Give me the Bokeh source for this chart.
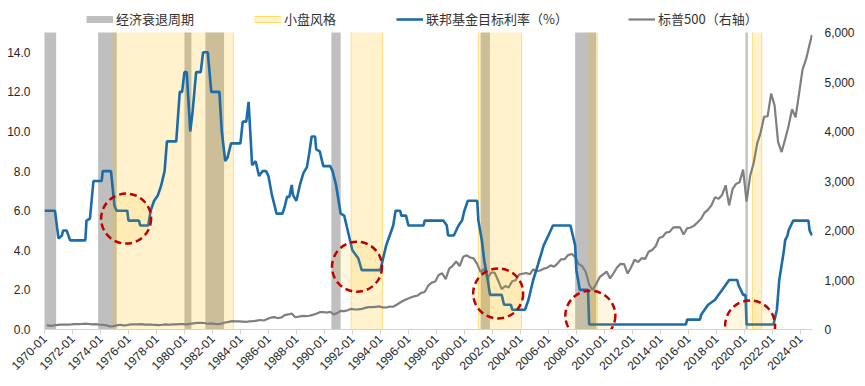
import pandas as pd
from math import pi
from bokeh.plotting import figure
from bokeh.models import (Range1d, LinearAxis, FixedTicker, NumeralTickFormatter,
                          DatetimeTickFormatter, Legend, LegendItem)
from bokeh.embed import file_html
from bokeh.resources import INLINE

# ---------------- data ----------------
# NBER recession periods (grey bands)
rec_start = ["1969-12", "1973-11", "1980-01", "1981-07", "1990-07", "2001-03", "2007-12", "2020-02"]
rec_end   = ["1970-11", "1975-03", "1980-07", "1982-11", "1991-03", "2001-11", "2009-06", "2020-04"]

# small-cap style periods (yellow bands)
small_start = ["1974-12", "1991-12", "2001-01", "2008-12", "2020-08"]
small_end   = ["1983-07", "1994-03", "2004-02", "2009-07", "2021-04"]

# Fed funds target rate (%), vertices of the series
rate_dates = ["1970-01", "1970-10", "1971-01", "1971-04", "1971-05", "1971-08", "1971-11", "1972-12",
              "1973-01", "1973-04", "1973-07", "1974-02", "1974-03", "1974-10", "1975-01", "1975-03",
              "1975-12", "1976-01", "1976-10", "1976-11", "1977-06", "1977-08", "1977-11", "1978-02",
              "1978-05", "1978-08", "1978-10", "1979-06", "1979-09", "1979-11", "1980-01", "1980-03",
              "1980-06", "1980-08", "1980-11", "1981-03", "1981-05", "1981-09", "1981-12", "1982-07",
              "1982-09", "1982-12", "1983-02", "1983-05", "1984-01", "1984-03", "1984-06", "1984-08",
              "1984-11", "1985-02", "1985-05", "1985-08", "1985-11", "1986-01", "1986-04", "1986-08",
              "1987-01", "1987-03", "1987-05", "1987-07", "1987-09", "1987-10", "1988-01", "1988-04",
              "1988-07", "1988-10", "1988-12", "1989-02", "1989-05", "1989-06", "1989-09", "1989-12",
              "1990-06", "1990-08", "1990-11", "1991-03", "1991-06", "1991-09", "1992-01", "1992-06",
              "1992-09", "1994-01", "1994-03", "1994-06", "1994-09", "1994-12", "1995-02", "1995-06",
              "1995-07", "1995-11", "1996-01", "1997-02", "1997-03", "1998-07", "1998-10", "1998-11",
              "1999-04", "1999-06", "1999-08", "1999-11", "2000-01", "2000-04", "2000-12", "2001-01",
              "2001-04", "2001-06", "2001-09", "2001-11", "2002-09", "2002-11", "2003-05", "2003-06",
              "2004-05", "2004-08", "2004-12", "2005-04", "2005-09", "2006-01", "2006-05", "2007-08",
              "2007-10", "2007-12", "2008-01", "2008-04", "2008-11", "2008-12", "2015-11", "2015-12",
              "2016-11", "2016-12", "2017-03", "2017-06", "2017-12", "2018-03", "2018-06", "2018-09",
              "2018-12", "2019-07", "2019-08", "2019-10", "2019-12", "2020-02", "2020-03", "2022-02",
              "2022-03", "2022-05", "2022-06", "2022-07", "2022-09", "2022-11", "2022-12", "2023-02",
              "2023-03", "2023-05", "2023-07", "2024-08", "2024-09", "2024-11"]
rate_values = [6.0, 6.0, 4.6, 4.75, 5.0, 5.0, 4.5, 4.5,
               5.5, 5.6, 7.5, 7.5, 8.0, 8.0, 6.25, 6.0,
               6.0, 5.5, 5.5, 5.25, 5.25, 6.0, 6.5, 6.75,
               7.25, 8.0, 9.5, 9.5, 12.0, 12.0, 13.0, 13.0,
               10.0, 11.0, 13.0, 13.0, 14.0, 14.0, 12.0, 12.0,
               10.0, 8.5, 8.7, 9.4, 9.4, 10.5, 10.5, 11.5,
               8.3, 8.5, 7.75, 8.0, 8.0, 7.75, 6.8, 5.85,
               5.85, 6.2, 6.7, 6.7, 7.3, 6.8, 6.5, 7.3,
               7.9, 8.2, 8.9, 9.75, 9.75, 9.1, 9.0, 8.25,
               8.25, 8.0, 7.3, 5.85, 5.75, 5.0, 4.0, 3.6,
               3.0, 3.0, 3.5, 4.25, 4.75, 5.25, 6.0, 6.0,
               5.75, 5.75, 5.25, 5.25, 5.5, 5.5, 5.25, 4.75,
               4.75, 5.0, 5.25, 5.5, 6.0, 6.5, 6.5, 5.5,
               4.5, 3.5, 2.5, 1.75, 1.75, 1.25, 1.25, 1.0,
               1.0, 1.5, 2.5, 3.25, 4.25, 4.75, 5.25, 5.25,
               4.75, 4.25, 3.0, 2.0, 2.0, 0.25, 0.25, 0.5,
               0.5, 0.75, 1.0, 1.25, 1.5, 1.75, 2.0, 2.25,
               2.5, 2.5, 2.25, 2.0, 1.75, 1.75, 0.25, 0.25,
               0.5, 1.0, 1.75, 2.5, 3.25, 4.0, 4.5, 4.75,
               5.0, 5.25, 5.5, 5.5, 5.0, 4.75]

# S&P 500 quarter-end closes from 1970Q1 (right axis), plus Nov-2024
sp500 = [89.6, 72.7, 84.2, 92.2, 100.3, 99.0, 98.3, 102.1, 107.2, 107.1, 110.6, 118.1,
         111.5, 104.3, 108.4, 97.6, 93.9, 86.0, 63.5, 68.6, 83.4, 95.2, 83.9, 90.2,
         102.8, 104.3, 105.2, 107.5, 98.4, 100.5, 96.5, 95.1, 89.2, 95.5, 102.5, 96.1,
         101.6, 102.9, 109.3, 107.9, 102.1, 114.2, 125.5, 135.8, 136.0, 131.2, 116.2, 122.6,
         112.0, 109.6, 120.4, 140.6, 153.0, 168.1, 166.1, 164.9, 159.2, 153.2, 166.1, 167.2,
         180.7, 191.9, 182.1, 211.3, 238.9, 250.8, 231.3, 242.2, 291.7, 304.0, 321.8, 247.1,
         258.9, 273.5, 271.9, 277.7, 294.9, 318.0, 349.2, 353.4, 339.9, 358.0, 306.1, 330.2,
         375.2, 371.2, 387.9, 417.1, 403.7, 408.1, 417.8, 435.7, 451.7, 450.5, 458.9, 466.5,
         445.8, 444.3, 462.7, 459.3, 500.7, 544.8, 584.4, 615.9, 645.5, 670.6, 687.3, 740.7,
         757.1, 885.1, 947.3, 970.4, 1101.8, 1133.8, 1017.0, 1229.2, 1286.4, 1372.7, 1282.7, 1469.3,
         1498.6, 1454.6, 1436.5, 1320.3, 1160.3, 1224.4, 1040.9, 1148.1, 1147.4, 989.8, 815.3, 879.8,
         848.2, 974.5, 996.0, 1111.9, 1126.2, 1140.8, 1114.6, 1211.9, 1180.6, 1191.3, 1228.8, 1248.3,
         1294.8, 1270.2, 1335.9, 1418.3, 1420.9, 1503.4, 1526.8, 1468.4, 1322.7, 1280.0, 1166.4, 903.3,
         797.9, 919.3, 1057.1, 1115.1, 1169.4, 1030.7, 1141.2, 1257.6, 1325.8, 1320.6, 1131.4, 1257.6,
         1408.5, 1362.2, 1440.7, 1426.2, 1569.2, 1606.3, 1681.6, 1848.4, 1872.3, 1960.2, 1972.3, 2058.9,
         2067.9, 2063.1, 1920.0, 2043.9, 2059.7, 2098.9, 2168.3, 2238.8, 2362.7, 2423.4, 2519.4, 2673.6,
         2640.9, 2718.4, 2914.0, 2506.9, 2834.4, 2941.8, 2976.7, 3230.8, 2584.6, 3100.3, 3363.0, 3756.1,
         3972.9, 4297.5, 4307.5, 4766.2, 4530.4, 3785.4, 3585.6, 3839.5, 4109.3, 4450.4, 4288.1, 4769.8,
         5254.4, 5460.5, 5762.5, 5950.0]

# highlighted zones (dashed circles): centre date and left-axis level
circle_dates = ["1975-11", "1992-05", "2002-06", "2009-01", "2020-06"]
circle_levels = [5.6, 3.17, 1.82, 0.7, 0.2]

tick_years = list(range(1970, 2025, 2))
left_ticks = [0, 2, 4, 6, 8, 10, 12, 14]
right_ticks = [0, 1000, 2000, 3000, 4000, 5000, 6000]
LEFT_MAX, RIGHT_MAX = 15, 6000

# ---------------- helpers ----------------
def dt(lst):
    return pd.to_datetime(lst, format="%Y-%m")

sp_dates = list(pd.date_range("1970-03-01", periods=len(sp500) - 1, freq="3MS")) + [pd.Timestamp("2024-11-01")]

FONT = "Liberation Sans"
TXT = "#262626"

x0 = pd.Timestamp("1970-01-01").value / 1e6
x1 = pd.Timestamp("2024-11-15").value / 1e6

# frame: 768 x 321 px; values 0..15 occupy the lowest 297 px, legend strip above
FRAME_H, PLOT_H = 321, 297
y_top = LEFT_MAX * FRAME_H / PLOT_H

p = figure(frame_width=768, frame_height=FRAME_H, x_axis_type="datetime", output_backend="svg",
           toolbar_location=None,
           x_range=Range1d(x0, x1),
           y_range=Range1d(0, y_top),
           min_border_left=44, min_border_right=45, min_border_top=8, min_border_bottom=49)
p.extra_y_ranges = {"sp": Range1d(0, RIGHT_MAX * FRAME_H / PLOT_H)}
p.xgrid.visible = False
p.ygrid.visible = False
p.outline_line_color = None

# bands
p.quad(left=dt(rec_start), right=dt(rec_end), bottom=0, top=LEFT_MAX,
       fill_color="#BFBFBF", line_color=None)
p.quad(left=dt(small_start), right=dt(small_end), bottom=0, top=LEFT_MAX,
       fill_color="#FFC000", fill_alpha=0.2, line_color=None)
for edge in (small_start, small_end):
    p.segment(x0=dt(edge), y0=0, x1=dt(edge), y1=LEFT_MAX,
              line_color="#FFC000", line_alpha=0.45, line_width=1)

# series
sp_r = p.line(sp_dates, sp500, y_range_name="sp", line_color="#7F7F7F", line_width=2.2)
rate_r = p.line(dt(rate_dates), rate_values, line_color="#1B6CA8", line_width=2.6)

# dashed circles
p.scatter(dt(circle_dates), circle_levels, marker="circle", size=50,
          fill_color="#FFC000", fill_alpha=0.12,
          line_color="#C00000", line_width=2.5, line_dash="7 4")

# legend swatches (off-range points, only used by the legend)
g_rec = p.line([x0, x0], [-5, -5], line_color="#BFBFBF", line_width=7)
g_sm1 = p.line([x0, x0], [-5, -5], line_color="#FFD966", line_width=7)
g_sm2 = p.line([x0, x0], [-5, -5], line_color="#FFF2CC", line_width=5)

# axes
xa = p.xaxis[0]
xa.ticker = FixedTicker(ticks=[pd.Timestamp(f"{y}-01-01").value / 1e6 for y in tick_years])
xa.formatter = DatetimeTickFormatter(years="%Y-%m", months="%Y-%m", days="%Y-%m",
                                     hours="%Y-%m", minutes="%Y-%m", seconds="%Y-%m")
xa.major_label_orientation = pi / 4
xa.axis_line_color = "#D9D4C3"
xa.major_tick_line_color = "#D9D4C3"
xa.major_tick_out = 5
xa.major_tick_in = 0
xa.minor_tick_line_color = None
xa.major_label_standoff = 2
xa.major_label_text_font = FONT
xa.major_label_text_font_size = "12px"
xa.major_label_text_color = TXT

ya = p.yaxis[0]
ya.ticker = FixedTicker(ticks=left_ticks)
ya.formatter = NumeralTickFormatter(format="0.0")
ya.axis_line_color = None
ya.major_tick_line_color = None
ya.minor_tick_line_color = None
ya.major_tick_out = 0
ya.major_tick_in = 0
ya.minor_tick_out = 0
ya.major_label_standoff = 14
ya.major_label_text_font = FONT
ya.major_label_text_font_size = "12px"
ya.major_label_text_color = TXT

ra = LinearAxis(y_range_name="sp", ticker=FixedTicker(ticks=right_ticks),
                formatter=NumeralTickFormatter(format="0,0"))
ra.axis_line_color = None
ra.major_tick_line_color = None
ra.minor_tick_line_color = None
ra.major_tick_out = 0
ra.major_tick_in = 0
ra.minor_tick_out = 0
ra.major_label_standoff = 12
ra.major_label_text_font = FONT
ra.major_label_text_font_size = "12px"
ra.major_label_text_color = TXT
p.add_layout(ra, "right")

legend = Legend(items=[
    LegendItem(label="经济衰退周期", renderers=[g_rec]),
    LegendItem(label="小盘风格", renderers=[g_sm1, g_sm2]),
    LegendItem(label="联邦基金目标利率（%）", renderers=[rate_r]),
    LegendItem(label="标普500（右轴）", renderers=[sp_r]),
], orientation="horizontal", location=(42, FRAME_H - 6 - 14), spacing=60,
    glyph_width=27, glyph_height=14, label_height=14, label_standoff=3,
    padding=0, margin=0, border_line_color=None, background_fill_alpha=0,
    label_text_font="Noto Sans CJK SC", label_text_font_size="13px",
    label_text_color="#333333")
p.add_layout(legend, "center")

open("out.html", "w").write(file_html(p, INLINE))
